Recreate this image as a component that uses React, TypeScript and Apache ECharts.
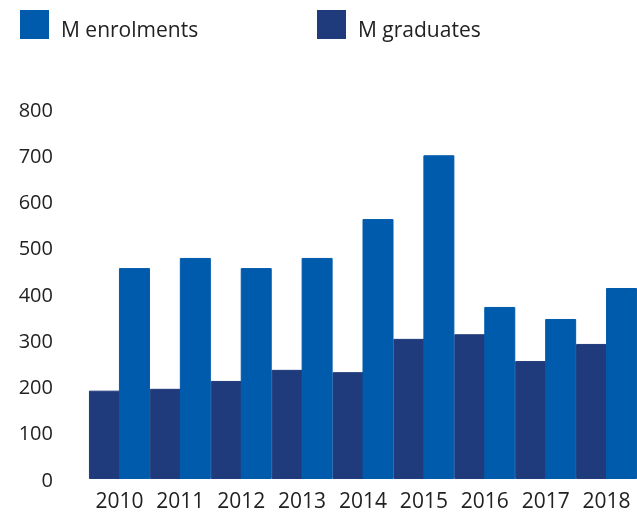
import React, { useEffect, useRef } from "react";
import * as echarts from "echarts";

const years = ["2010", "2011", "2012", "2013", "2014", "2015", "2016", "2017", "2018"];
const graduates = [191, 195, 212, 236, 231, 303, 313, 255, 292];
const enrolments = [456, 478, 456, 478, 562, 700, 372, 346, 413];
const yTicks = { min: 0, max: 800, interval: 100 };

const BRIGHT = "#005BAC";
const DARK = "#203B7C";
const TEXT = "#222222";
const FONT = "Open Sans";

export default function App() {
  const ref = useRef<HTMLDivElement>(null);
  useEffect(() => {
    if (!ref.current) return;
    const chart = echarts.init(ref.current, null, { renderer: "svg" });
    const legendCommon = {
      top: 10,
      padding: 0,
      itemWidth: 27,
      itemHeight: 27,
      itemGap: 0,
      icon: "rect",
      formatter: "{t|{name}}",
      textStyle: {
        fontFamily: FONT,
        fontSize: 21,
        color: TEXT,
        rich: {
          t: { fontFamily: FONT, fontSize: 21, color: TEXT, padding: [8, 0, 0, 8] },
        },
      },
      selectedMode: false,
    };
    chart.setOption({
      animation: false,
      textStyle: { fontFamily: FONT },
      legend: [
        { ...legendCommon, left: 20, data: ["M enrolments"] },
        { ...legendCommon, left: 317, data: ["M graduates"] },
      ],
      grid: { left: 89, top: 109, width: 549, bottom: 33, containLabel: false },
      xAxis: {
        type: "category",
        data: years,
        axisLine: { show: false },
        axisTick: { show: false },
        axisLabel: {
          fontFamily: FONT,
          fontSize: 21,
          lineHeight: 19,
          color: TEXT,
          margin: 11,
          interval: 0,
          hideOverlap: false,
        },
      },
      yAxis: {
        type: "value",
        min: yTicks.min,
        max: yTicks.max,
        interval: yTicks.interval,
        splitLine: { show: false },
        axisLine: { show: false },
        axisTick: { show: false },
        axisLabel: { fontFamily: FONT, fontSize: 20, color: TEXT, margin: 36 },
      },
      series: [
        {
          name: "M graduates",
          type: "bar",
          data: graduates,
          itemStyle: { color: DARK, borderColor: DARK, borderWidth: 1 },
          barWidth: 31,
          barGap: "-3.2258%",
        },
        {
          name: "M enrolments",
          type: "bar",
          data: enrolments,
          itemStyle: { color: BRIGHT, borderColor: BRIGHT, borderWidth: 1 },
          barWidth: 31,
          barGap: "-3.2258%",
        },
      ],
    });
    return () => chart.dispose();
  }, []);
  return <div ref={ref} style={{ width: 637, height: 512, position: "fixed", left: 0, top: 0 }} />;
}
